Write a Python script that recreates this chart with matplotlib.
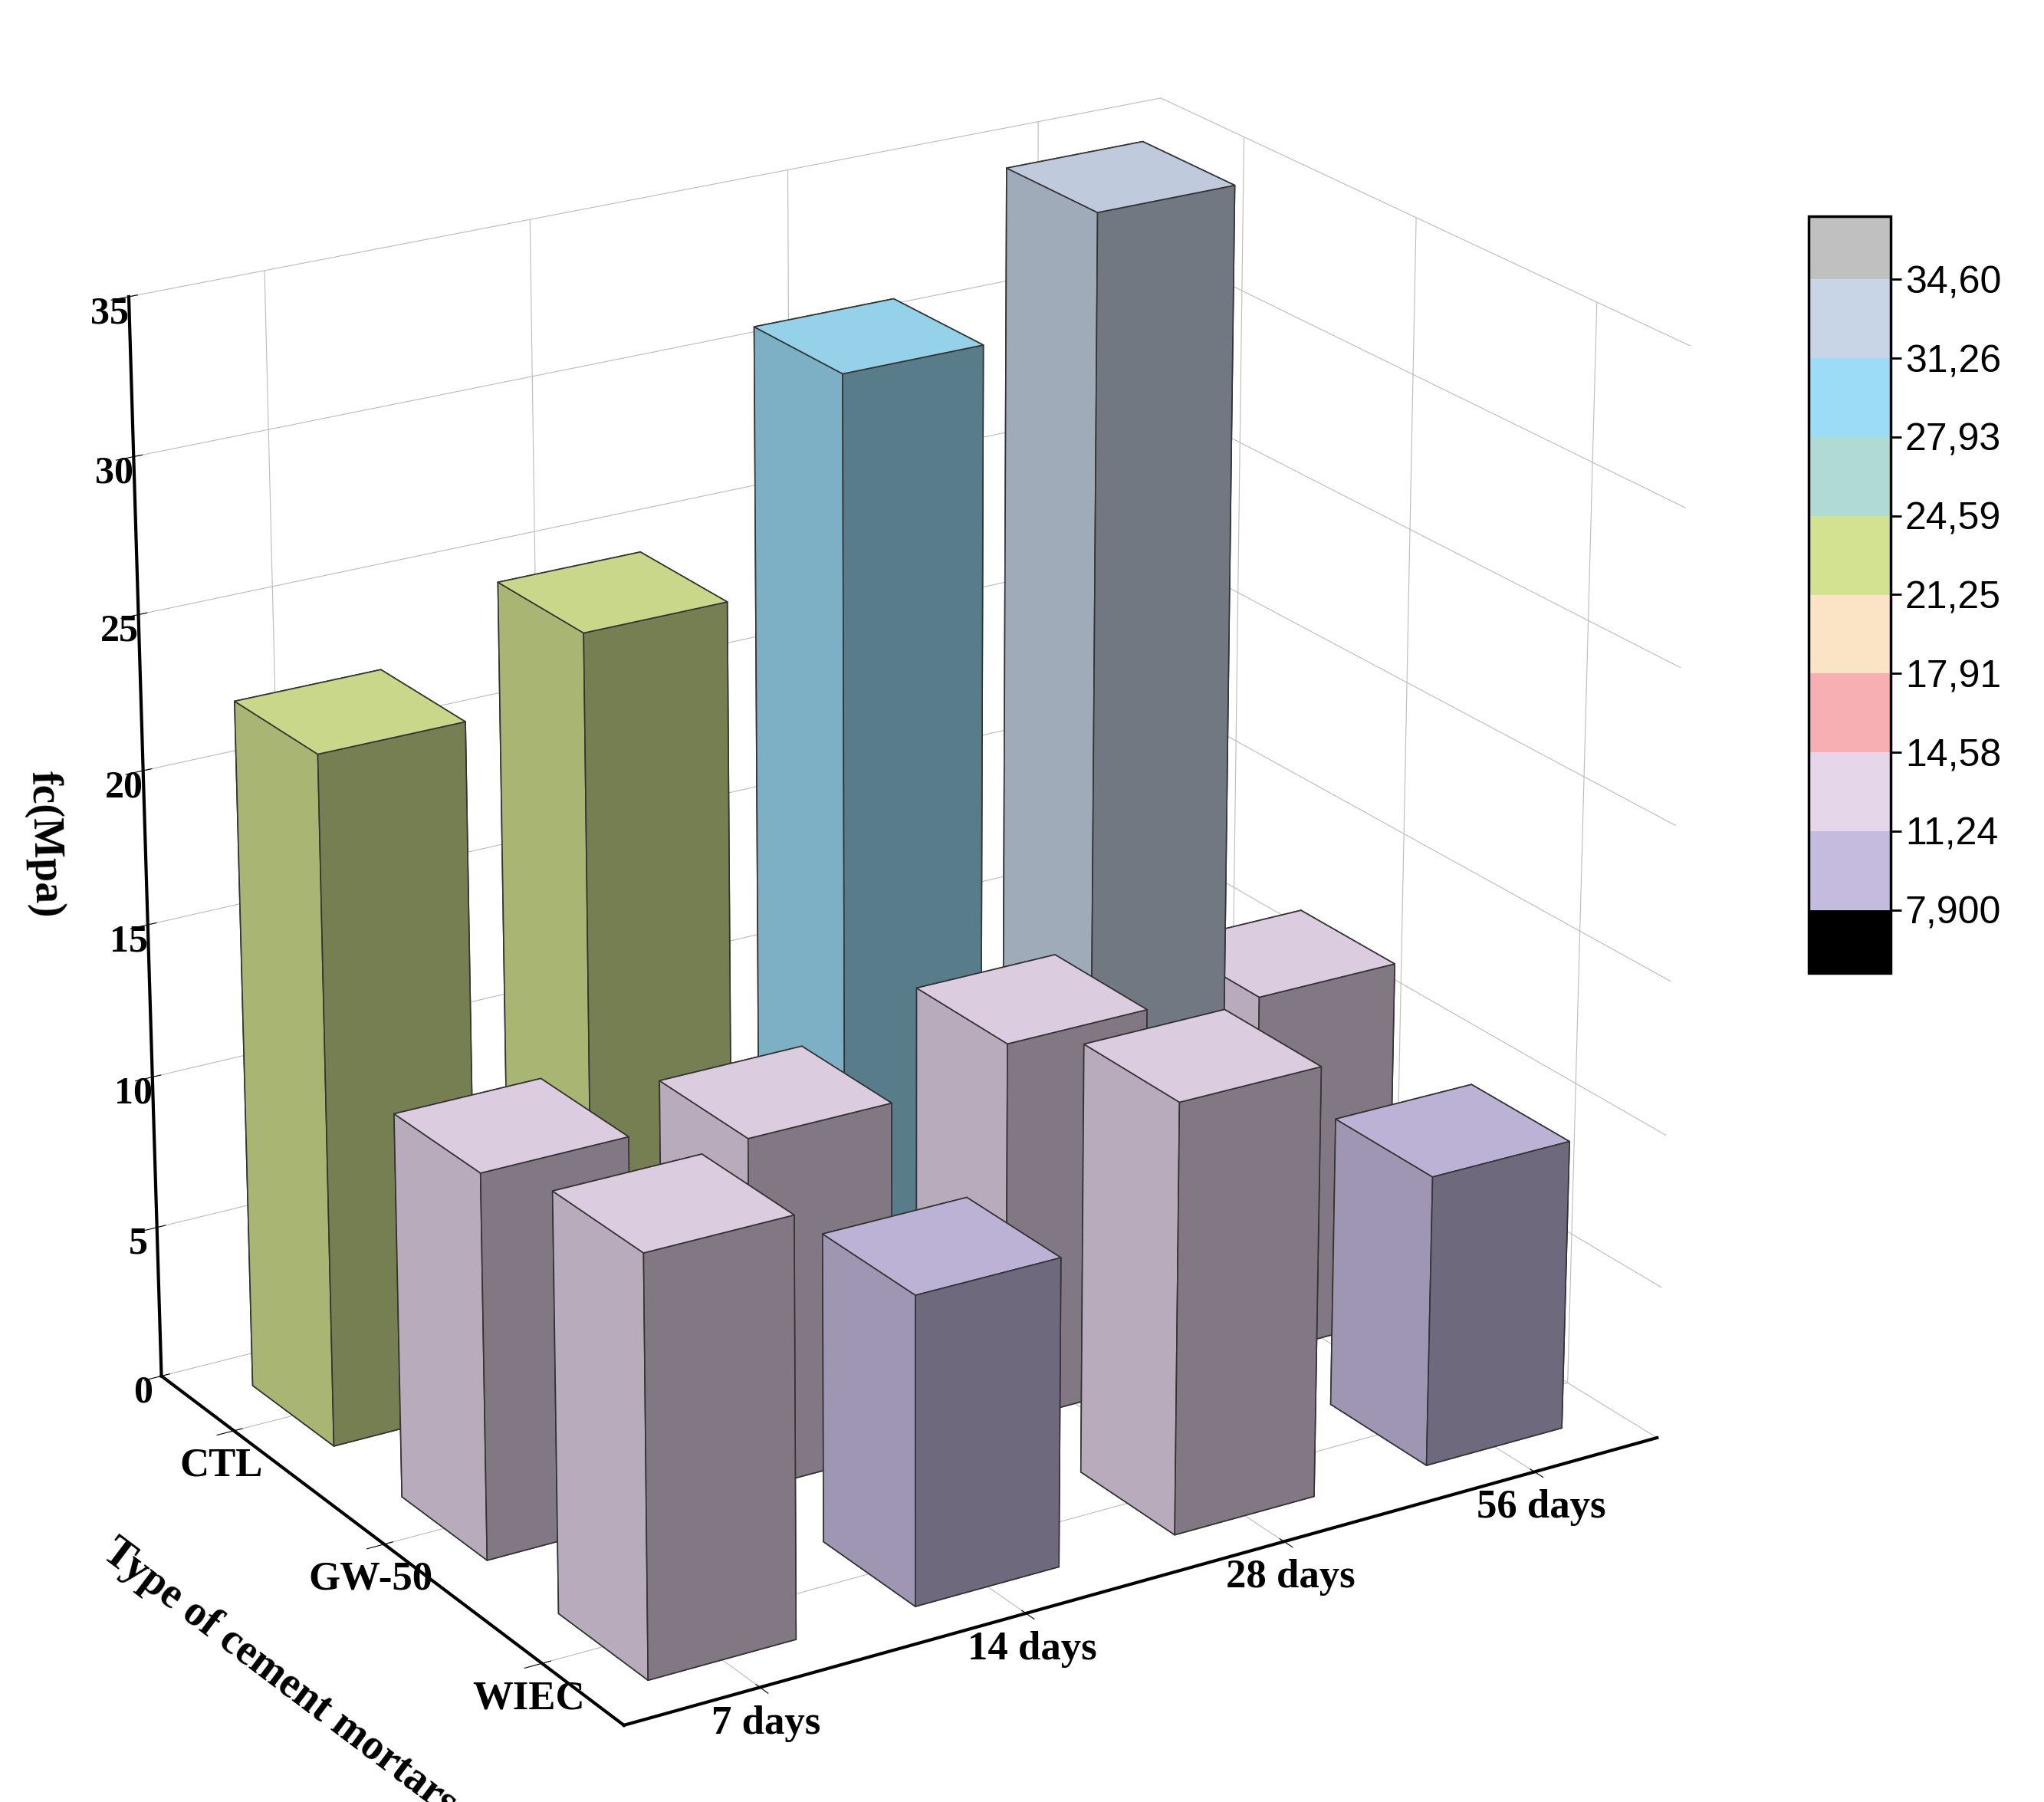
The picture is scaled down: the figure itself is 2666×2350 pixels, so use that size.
import matplotlib
matplotlib.use("Agg")
import matplotlib.pyplot as plt
import matplotlib.colors as mcolors
import numpy as np

MORTARS = ["CTL", "GW-50", "WIEC"]
DAYS = ["7 days", "14 days", "28 days", "56 days"]
FC = [
    [22.5, 24.5, 31.0, 34.5],   # CTL
    [12.5, 11.5, 12.5, 12.0],   # GW-50
    [13.5, 10.0, 14.0, 9.5],    # WIEC
]
LEVELS = [7.9, 11.24, 14.58, 17.91, 21.25, 24.59, 27.93, 31.26, 34.60]
LEVEL_LABELS = ["7,900", "11,24", "14,58", "17,91", "21,25", "24,59", "27,93", "31,26", "34,60"]
LEVEL_COLORS = ["#000000", "#c5bbdf", "#e6d6ea", "#f7afb3", "#fbe4c6",
                "#d2e290", "#b0dad4", "#9cdcf6", "#c8d5e7", "#c0c0c0"]

plt.rcParams["font.family"] = ["Liberation Serif", "DejaVu Serif"]

cmap = mcolors.ListedColormap(LEVEL_COLORS[1:-1])
cmap.set_under(LEVEL_COLORS[0])
cmap.set_over(LEVEL_COLORS[-1])
norm = mcolors.BoundaryNorm(LEVELS, cmap.N)

fig = plt.figure(figsize=(26.66, 23.5), dpi=100)
ax = fig.add_axes([-0.03, -0.02, 0.92, 1.04], projection="3d")

w = 0.55
for i, row in enumerate(FC):
    for j, v in enumerate(row):
        x = j - w / 2
        y = (len(MORTARS) - 1 - i) - w / 2
        ax.bar3d(x, y, 0, w, w, v, color=cmap(norm(v)), edgecolor="#333333",
                 linewidth=1.2, shade=True, lightsource=mcolors.LightSource(azdeg=300, altdeg=60))

ax.set_xlim(-0.5, 3.5)
ax.set_ylim(-0.5, 2.5)
ax.set_zlim(0, 35)
ax.set_xticks(range(len(DAYS)))
ax.set_xticklabels(DAYS, fontsize=38, fontweight="bold")
ax.set_yticks(range(len(MORTARS)))
ax.set_yticklabels(MORTARS[::-1], fontsize=38, fontweight="bold")
ax.set_zticks(range(0, 36, 5))
ax.set_zticklabels([str(t) for t in range(0, 36, 5)], fontsize=36, fontweight="bold")
ax.set_zlabel("fc(Mpa)", fontsize=40, fontweight="bold", labelpad=40)
ax.set_ylabel("Type of cement mortars", fontsize=40, fontweight="bold", labelpad=70)
for a in (ax.xaxis, ax.yaxis, ax.zaxis):
    a.set_pane_color((1, 1, 1, 0))
    a._axinfo["grid"]["color"] = "#bbbbbb"
    a.line.set_linewidth(3)
ax.view_init(elev=22, azim=-122)
ax.set_box_aspect((1.3, 1.0, 1.25))

cax = fig.add_axes([0.885, 0.46, 0.04, 0.42])
sm = plt.cm.ScalarMappable(cmap=cmap, norm=norm)
cb = fig.colorbar(sm, cax=cax, extend="both", extendfrac=0.1, extendrect=True)
cb.set_ticks(LEVELS)
cb.set_ticklabels(LEVEL_LABELS, fontfamily="Liberation Sans")
cb.ax.tick_params(labelsize=36, length=10, width=2)
cb.outline.set_linewidth(2.5)

fig.savefig("out.png", dpi=100)
